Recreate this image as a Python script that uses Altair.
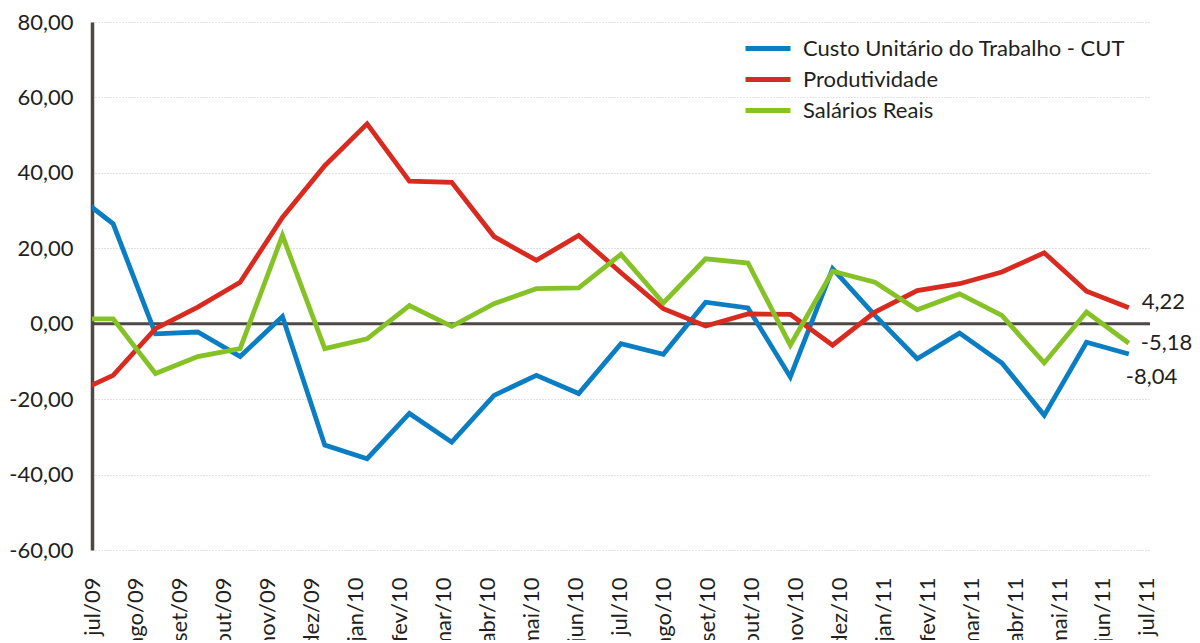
import altair as alt
import pandas as pd

# ---- data ----
months = ["jul/09", "ago/09", "set/09", "out/09", "nov/09", "dez/09", "jan/10", "fev/10",
          "mar/10", "abr/10", "mai/10", "jun/10", "jul/10", "ago/10", "set/10", "out/10",
          "nov/10", "dez/10", "jan/11", "fev/11", "mar/11", "abr/11", "mai/11", "jun/11", "jul/11"]

series_names = ["Custo Unitário do Trabalho - CUT", "Produtividade", "Salários Reais"]

cut = [35.2, 26.5, -2.7, -2.2, -8.7, 1.9, -32.2, -35.8, -23.8, -31.4, -19.0, -13.7, -18.5,
       -5.3, -8.1, 5.7, 4.2, -14.1, 14.6, 2.2, -9.3, -2.5, -10.4, -24.3, -4.9, -8.04]
produtividade = [-18.9, -13.7, -1.3, 4.4, 11.0, 28.2, 41.9, 53.0, 37.8, 37.5, 23.1, 16.8, 23.4,
                 13.5, 4.0, -0.6, 2.6, 2.5, -5.7, 3.1, 8.8, 10.6, 13.7, 18.8, 8.6, 4.22]
salarios = [1.3, 1.3, -13.2, -8.7, -6.6, 23.4, -6.6, -4.0, 4.8, -0.7, 5.3, 9.3, 9.5,
            18.4, 5.5, 17.2, 16.1, -5.7, 13.9, 11.0, 3.7, 7.9, 2.2, -10.4, 3.1, -5.18]

y_ticks = [-60, -40, -20, 0, 20, 40, 60, 80]

colors = ["#0a7dc3", "#d92a1f", "#85c226"]
FONT = "Lato"
FS = 22
TEXT = "#231f20"
AXIS = "#4d4845"

rows = []
for name, vals in zip(series_names, [cut, produtividade, salarios]):
    for i, v in enumerate(vals):
        rows.append({"serie": name, "t": i, "valor": v})
df = pd.DataFrame(rows)

last = pd.DataFrame([
    {"serie": n, "t": len(v) - 1, "valor": v[-1],
     "rotulo": f"{v[-1]:.2f}".replace(".", ",")}
    for n, v in zip(series_names, [cut, produtividade, salarios])
])

months_df = pd.DataFrame({"i": list(range(len(months))), "mes": months})

xdata = alt.Scale(domain=[0.5, 25.5], nice=False, zero=False)
yscale = alt.Scale(domain=[-60, 80], nice=False, zero=False)

y_axis = alt.Axis(
    values=y_ticks, title=None, grid=True, gridColor="#c4c4c4", gridDash=[1, 2], gridWidth=1,
    domain=True, domainColor=AXIS, domainWidth=3.5, ticks=False,
    labelFont=FONT, labelFontSize=FS, labelColor=TEXT, labelPadding=19,
    labelExpr="(datum.value < 0 ? '-' : '') + replace(format(abs(datum.value), '.2f'), '.', ',')",
)

zero_rule = alt.Chart(pd.DataFrame({"z": [0]})).mark_rule(
    color=AXIS, strokeWidth=3
).encode(y=alt.Y("z:Q", scale=yscale, axis=y_axis))

lines = alt.Chart(df).mark_line(strokeWidth=4.8, clip=True).encode(
    x=alt.X("t:Q", scale=xdata, axis=None),
    y=alt.Y("valor:Q", scale=yscale, axis=y_axis),
    color=alt.Color(
        "serie:N",
        scale=alt.Scale(domain=series_names, range=colors),
        legend=alt.Legend(
            title=None, orient="none", legendX=651, legendY=12, padding=0,
            symbolType="stroke", symbolSize=2025, symbolStrokeWidth=5,
            clipHeight=29, rowPadding=2, labelOffset=10,
            labelFont=FONT, labelFontSize=FS, labelColor=TEXT, labelLimit=600,
        ),
    ),
    order=alt.Order("t:Q"),
    detail="serie:N",
)

label_style = {
    series_names[0]: {"dx": -3, "dy": 23},
    series_names[1]: {"dx": 13, "dy": -6},
    series_names[2]: {"dx": 12, "dy": 0},
}
texts = []
for n in series_names:
    st = label_style[n]
    texts.append(
        alt.Chart(last).transform_filter(alt.datum.serie == n).mark_text(
            align="left", baseline="middle", font=FONT, fontSize=FS, color=TEXT,
            dx=st["dx"], dy=st["dy"],
        ).encode(
            x=alt.X("t:Q", scale=xdata, axis=None),
            y=alt.Y("valor:Q", scale=yscale, axis=y_axis),
            text="rotulo:N",
        )
    )

data_layers = alt.layer(zero_rule, lines, *texts)

label_list = "[" + ",".join("'" + m + "'" for m in months) + "]"
month_layer = alt.Chart(months_df).mark_point(opacity=0, size=1).encode(
    x=alt.X(
        "i:Q",
        scale=alt.Scale(domain=[0, 24.07], nice=False, zero=False),
        axis=alt.Axis(
            orient="bottom", values=list(range(len(months))), title=None, grid=False,
            domain=False, ticks=False, labelAngle=-90, labelPadding=27,
            labelFont=FONT, labelFontSize=FS, labelColor=TEXT,
            labelOverlap=False, labelFlush=False, labelBound=False,
            labelExpr=label_list + "[datum.value]",
        ),
    ),
    y=alt.value(0),
)

chart = alt.layer(data_layers, month_layer).resolve_scale(x="independent").resolve_axis(
    x="independent"
).properties(
    width=1058, height=528,
    autosize=alt.AutoSizeParams(type="none"),
    padding={"left": 84, "top": 14, "right": 42, "bottom": 90},
    background="white",
).configure_view(stroke=None)

chart.save("out.html", embed_options={"renderer": "svg", "actions": False})
